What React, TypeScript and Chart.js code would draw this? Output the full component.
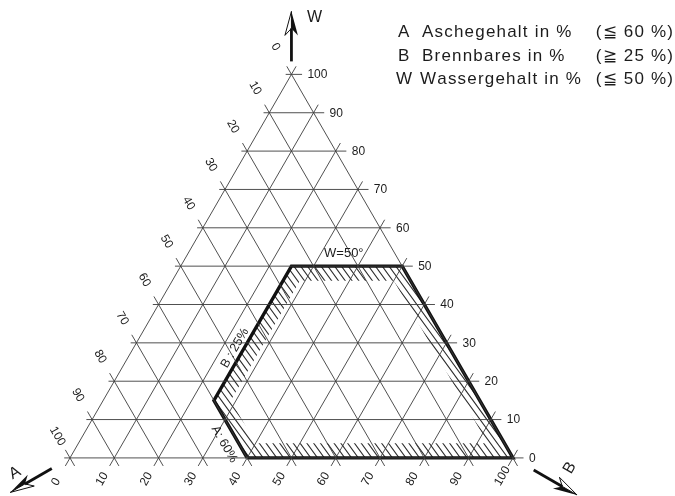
import React, { useEffect, useRef } from "react";
import { Chart, registerables } from "chart.js";

Chart.register(...registerables);

// ---- data ----
const TICKS = [0, 10, 20, 30, 40, 50, 60, 70, 80, 90, 100];
const TICK_LABELS = ["0", "10", "20", "30", "40", "50", "60", "70", "80", "90", "100"];
const A_MAX = 60; // Aschegehalt <= 60 %
const B_MIN = 25; // Brennbares >= 25 %
const W_MAX = 50; // Wassergehalt <= 50 %
const LEGEND_KEYS = ["A", "B", "W"];
const LEGEND_TEXTS = ["Aschegehalt in %", "Brennbares in %", "Wassergehalt in %"];
const LEGEND_LIMITS = ["(≦ 60 %)", "(≧ 25 %)", "(≦ 50 %)"];
const AXIS_NAMES = ["A", "B", "W"];
const LIMIT_LABELS = ["A: 60%", "B : 25%", "W=50°"];

// ---- style ----
const HATCH_BAND = 3.8;
const EXT = 2.1;
const GRID_COLOR = "#3c3c3c";
const TEXT_COLOR = "#1c1c1c";
const FONT = '"Liberation Sans", Arial, sans-serif';
const X_MIN = -15.8, X_MAX = 136.6, Y_MIN = -8.6, Y_MAX = 103.4;

const SQ3 = Math.sqrt(3) / 2;
function toXY(a: number, b: number, w: number) {
  return { x: b + w / 2, y: w * SQ3 };
}

function region(off: number): number[][] {
  const aHi = A_MAX - off, aLo = off, wLo = off, wHi = W_MAX - off, bLo = B_MIN + off;
  return [
    [aHi, 100 - aHi - wLo, wLo],
    [aLo, 100 - aLo - wLo, wLo],
    [aLo, 100 - aLo - wHi, wHi],
    [100 - bLo - wHi, bLo, wHi],
    [aHi, bLo, 100 - aHi - bLo],
  ];
}

function seg(p: { x: number; y: number }, q: { x: number; y: number }, dir: number[], e0: number, e1: number) {
  return [
    { x: p.x - dir[0] * e0, y: p.y - dir[1] * e0 },
    { x: q.x + dir[0] * e1, y: q.y + dir[1] * e1 },
  ];
}

function buildDatasets() {
  const ds: any[] = [];
  const line = (data: any[]) => ({
    data,
    showLine: true,
    borderColor: GRID_COLOR,
    borderWidth: 0.9,
    pointRadius: 0,
    fill: false,
  });
  TICKS.forEach((v) => {
    ds.push(line(seg(toXY(100 - v, 0, v), toXY(0, 100 - v, v), [1, 0], 1.3, 2.4)));
    ds.push(line(seg(toXY(v, 0, 100 - v), toXY(v, 100 - v, 0), [0.5, -SQ3], EXT, EXT)));
    ds.push(line(seg(toXY(100 - v, v, 0), toXY(0, v, 100 - v), [0.5, SQ3], EXT, EXT)));
  });
  const poly = region(0).map((t) => toXY(t[0], t[1], t[2]));
  poly.push(poly[0]);
  ds.push({
    data: poly,
    showLine: true,
    borderColor: "#111",
    borderWidth: 3.4,
    borderJoinStyle: "miter",
    pointRadius: 0,
    fill: false,
  });
  return ds;
}

function drawArrow(ctx: CanvasRenderingContext2D, x0: number, y0: number, ang: number, start: number, len: number) {
  const ux = Math.cos(ang), uy = Math.sin(ang);
  const nx = -uy, ny = ux;
  const sx = x0 + ux * start, sy = y0 + uy * start;
  const tx = x0 + ux * (start + len), ty = y0 + uy * (start + len);
  const headL = 24, halfW = 6.5, notch = 17;
  const bx = tx - ux * notch, by = ty - uy * notch;
  ctx.save();
  ctx.strokeStyle = "#111";
  ctx.lineWidth = 2.8;
  ctx.beginPath();
  ctx.moveTo(sx, sy);
  ctx.lineTo(bx, by);
  ctx.stroke();
  const rx = tx - ux * headL + nx * halfW, ry = ty - uy * headL + ny * halfW;
  const lx = tx - ux * headL - nx * halfW, ly = ty - uy * headL - ny * halfW;
  ctx.fillStyle = "#111";
  ctx.beginPath();
  ctx.moveTo(tx, ty);
  ctx.lineTo(rx, ry);
  ctx.lineTo(bx, by);
  ctx.closePath();
  ctx.fill();
  ctx.lineWidth = 1;
  ctx.beginPath();
  ctx.moveTo(tx, ty);
  ctx.lineTo(lx, ly);
  ctx.lineTo(bx, by);
  ctx.closePath();
  ctx.stroke();
  ctx.restore();
}

// draw text char by char with extra spacing; align "left" or "right"
function spacedText(ctx: CanvasRenderingContext2D, txt: string, x: number, y: number, sp: number, align: "left" | "right") {
  const chars = Array.from(txt);
  const widths = chars.map((c) => ctx.measureText(c).width);
  const total = widths.reduce((s, w) => s + w, 0) + sp * (chars.length - 1);
  let cx = align === "left" ? x : x - total;
  ctx.save();
  ctx.textAlign = "left";
  chars.forEach((c, i) => {
    ctx.fillText(c, cx, y);
    cx += widths[i] + sp;
  });
  ctx.restore();
}

const decorPlugin = {
  id: "ternaryDecor",
  beforeDatasetsDraw(chart: any) {
    const { ctx } = chart;
    const xs = chart.scales.x, ys = chart.scales.y;
    const P = (t: number[]) => {
      const p = toXY(t[0], t[1], t[2]);
      return { x: xs.getPixelForValue(p.x), y: ys.getPixelForValue(p.y) };
    };
    const outer = region(0).map(P);
    const inner = region(HATCH_BAND).map(P);
    ctx.save();
    ctx.beginPath();
    outer.forEach((p, i) => (i ? ctx.lineTo(p.x, p.y) : ctx.moveTo(p.x, p.y)));
    ctx.closePath();
    inner.forEach((p, i) => (i ? ctx.lineTo(p.x, p.y) : ctx.moveTo(p.x, p.y)));
    ctx.closePath();
    ctx.clip("evenodd");
    const th = (54 * Math.PI) / 180;
    const ux = Math.cos(th), uy = Math.sin(th);
    const nx = -uy, ny = ux;
    const cx = chart.width / 2, cy = chart.height / 2;
    ctx.strokeStyle = "#2e2e2e";
    ctx.lineWidth = 1.1;
    ctx.beginPath();
    for (let t = -900; t <= 900; t += 5.5) {
      const px = cx + nx * t, py = cy + ny * t;
      ctx.moveTo(px - ux * 900, py - uy * 900);
      ctx.lineTo(px + ux * 900, py + uy * 900);
    }
    ctx.stroke();
    ctx.restore();
  },
  afterDatasetsDraw(chart: any) {
    const { ctx } = chart;
    const xs = chart.scales.x, ys = chart.scales.y;
    const P = (a: number, b: number, w: number) => {
      const p = toXY(a, b, w);
      return { x: xs.getPixelForValue(p.x), y: ys.getPixelForValue(p.y) };
    };
    const rotText = (txt: string, x: number, y: number, ang: number, align: CanvasTextAlign) => {
      ctx.save();
      ctx.translate(x, y);
      ctx.rotate(ang);
      ctx.textAlign = align;
      ctx.textBaseline = "middle";
      ctx.fillText(txt, 0, 0);
      ctx.restore();
    };
    ctx.save();
    ctx.fillStyle = TEXT_COLOR;
    ctx.font = `12px ${FONT}`;
    TICKS.forEach((v, i) => {
      const pa = P(v, 0, 100 - v);
      rotText(TICK_LABELS[i], pa.x - 0.5 * 35, pa.y - SQ3 * 35, Math.PI / 3, "left");
      const pb = P(100 - v, v, 0);
      rotText(TICK_LABELS[i], pb.x - 0.5 * 31, pb.y + SQ3 * 31, -Math.PI / 3, "left");
      const pw = P(0, 100 - v, v);
      ctx.textAlign = "left";
      ctx.textBaseline = "middle";
      ctx.fillText(TICK_LABELS[i], pw.x + 16, pw.y + 0.5);
    });

    // limit labels
    ctx.font = `12.5px ${FONT}`;
    const r = region(0).map((t) => P(t[0], t[1], t[2]));
    {
      const p0 = r[4], p1 = r[0];
      const t = 0.65;
      const x = p0.x + (p1.x - p0.x) * t, y = p0.y + (p1.y - p0.y) * t;
      rotText(LIMIT_LABELS[0], x - SQ3 * 13, y + 0.5 * 13, Math.PI / 3, "center");
    }
    {
      const p0 = r[4], p1 = r[3];
      const t = 0.36;
      const x = p0.x + (p1.x - p0.x) * t, y = p0.y + (p1.y - p0.y) * t;
      rotText(LIMIT_LABELS[1], x - SQ3 * 8, y - 0.5 * 8, -Math.PI / 3, "center");
    }
    {
      const p0 = r[3], p1 = r[2];
      const x = (p0.x + p1.x) / 2 - 3, y = p0.y - 13;
      ctx.font = `13px ${FONT}`;
      ctx.textAlign = "center";
      ctx.textBaseline = "middle";
      ctx.fillText(LIMIT_LABELS[2], x, y);
    }

    // arrows
    const vA = P(100, 0, 0), vB = P(0, 100, 0), vW = P(0, 0, 100);
    drawArrow(ctx, vW.x, vW.y, -Math.PI / 2, 13, 50);
    drawArrow(ctx, vA.x, vA.y, (150 * Math.PI) / 180, 21, 48);
    drawArrow(ctx, vB.x, vB.y, (30 * Math.PI) / 180, 24, 50);
    ctx.fillStyle = TEXT_COLOR;
    ctx.font = `16px ${FONT}`;
    rotText(AXIS_NAMES[0], vA.x - 55, vA.y + 15, -Math.PI / 6, "center");
    rotText(AXIS_NAMES[1], vB.x + 57, vB.y + 10, -Math.PI / 3, "center");
    ctx.textAlign = "center";
    ctx.textBaseline = "middle";
    ctx.fillText(AXIS_NAMES[2], vW.x + 23, vW.y - 57);

    // legend
    ctx.font = `17px ${FONT}`;
    ctx.textBaseline = "alphabetic";
    const rowY = [37, 60.5, 84];
    LEGEND_KEYS.forEach((k, i) => {
      spacedText(ctx, k, i === 2 ? 396 : 398, rowY[i], 1.2, "left");
      spacedText(ctx, LEGEND_TEXTS[i], i === 2 ? 420 : 422, rowY[i], 1.2, "left");
      spacedText(ctx, LEGEND_LIMITS[i], 673, rowY[i], 1.2, "right");
    });
    ctx.restore();
  },
};

export default function App() {
  const ref = useRef<HTMLCanvasElement | null>(null);
  useEffect(() => {
    if (!ref.current) return;
    const chart = new Chart(ref.current, {
      type: "scatter",
      data: { datasets: buildDatasets() },
      options: {
        animation: false,
        responsive: false,
        maintainAspectRatio: false,
        events: [],
        layout: { padding: 0, autoPadding: false } as any,
        plugins: { legend: { display: false }, tooltip: { enabled: false } },
        scales: {
          x: { type: "linear", min: X_MIN, max: X_MAX, display: false },
          y: { type: "linear", min: Y_MIN, max: Y_MAX, display: false },
        },
      },
      plugins: [decorPlugin],
    } as any);
    return () => chart.destroy();
  }, []);
  return (
    <div style={{ position: "absolute", left: 0, top: 0, width: 675, height: 496, background: "#fff" }}>
      <canvas ref={ref} width={675} height={496} style={{ display: "block" }} />
    </div>
  );
}
